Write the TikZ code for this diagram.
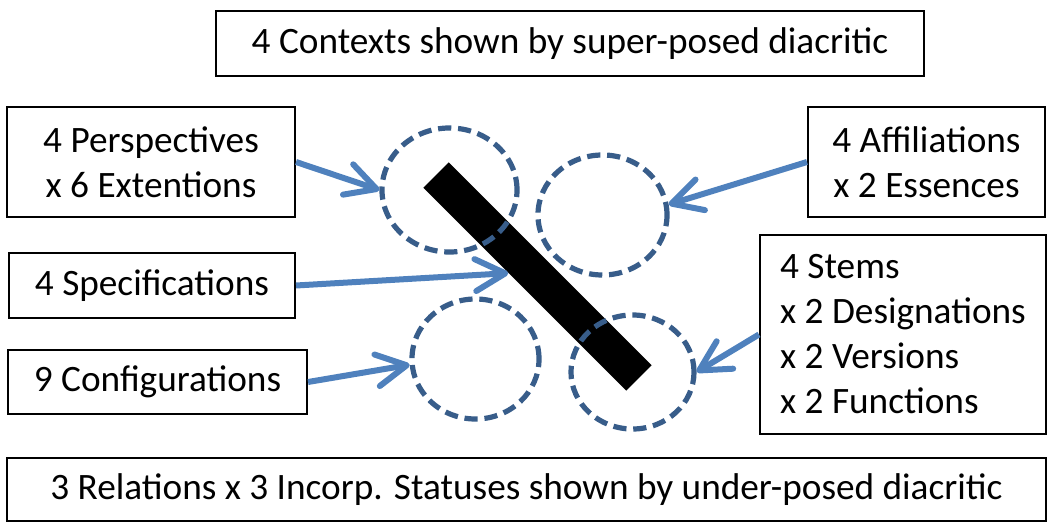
\documentclass[tikz,border=0pt]{standalone}
\usepackage{fontspec}
\setmainfont{Carlito}
\usetikzlibrary{shapes.geometric,arrows.meta,calc}
\definecolor{arrowblue}{HTML}{4F81BD}
\definecolor{ringblue}{HTML}{385D8A}
\begin{document}
\begin{tikzpicture}[x=0.025cm, y=-0.025cm,
  box/.style={draw, line width=0.05cm, inner sep=0pt, align=center, font=\fontsize{26.5}{32}\selectfont},
  ring/.style={ellipse, draw=ringblue, line width=0.13cm, dash pattern=on 0.33cm off 0.17cm, inner sep=0pt},
  link/.style={arrowblue, line width=0.15cm, -{Straight Barb[length=0.75cm, width=0.8cm, round]}}]
\useasboundingbox (0,0) rectangle (1048,524);
% text boxes
\node[box, minimum width=17.7cm, minimum height=1.625cm] (ctx) at (570,43.5) {4 Contexts shown by super-posed diacritic};
\node[box, minimum width=7.2cm, minimum height=2.75cm] (persp) at (151,162) {4 Perspectives\\x 6 Extentions};
\node[box, minimum width=7.15cm, minimum height=1.625cm] (spec) at (152,285.5) {4 Specifications};
\node[box, minimum width=7.475cm, minimum height=1.6cm] (conf) at (157.5,382) {9 Configurations};
\node[box, minimum width=5.925cm, minimum height=2.75cm] (affil) at (926.5,162) {4 Affiliations\\x 2 Essences};
\node[box, align=left, minimum width=7.15cm, minimum height=4.975cm] (stem) at (903,334.5) {4 Stems\\x 2 Designations\\x 2 Versions\\x 2 Functions};
\node[box, minimum width=25.975cm, minimum height=1.575cm] (rel) at (526.5,489.5) {3 Relations x 3 Incorp. Statuses shown by under-posed diacritic};
% diacritic and rings
\node[fill, rotate=-45, minimum width=7.175cm, minimum height=0.9cm, inner sep=0pt] (bar) at (537.5,276.5) {};
\node[ring, minimum width=3.375cm, minimum height=3.1cm] (ring1) at (449.5,190) {};
\node[ring, minimum width=3.225cm, minimum height=3cm] (ring2) at (602.5,215) {};
\node[ring, minimum width=3.175cm, minimum height=3cm] (ring3) at (475.5,359) {};
\node[ring, minimum width=3.075cm, minimum height=2.85cm] (ring4) at (632.5,372) {};
% arrows
\draw[link] (persp.east) -- (ring1.west);
\draw[link] (spec.east) -- ($(bar.south west)!0.42!(bar.south east)$);
\draw[link] (conf.east) -- (ring3.185);
\draw[link] (affil.west) -- (ring2.9);
\draw[link] (stem.west) -- (ring4.east);
\end{tikzpicture}
\end{document}
